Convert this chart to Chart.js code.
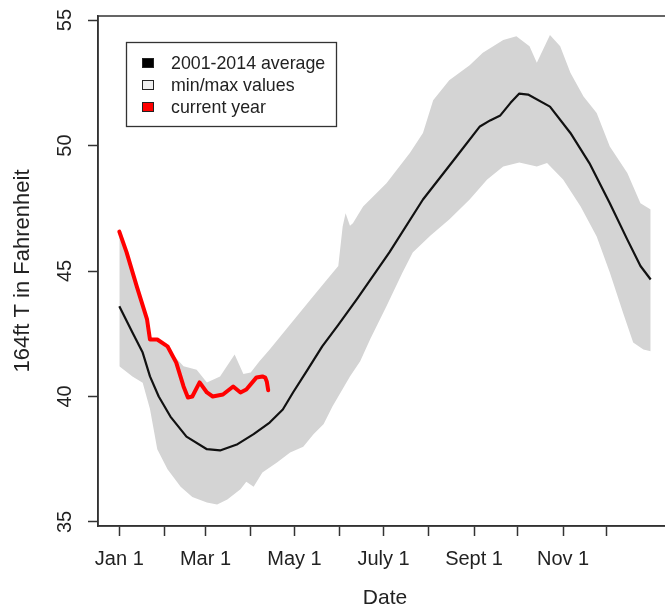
<!doctype html>
<html lang="en">
  <head>
    <meta charset="utf-8">
    <title>164ft temperature</title>
    <style>
      * {
        margin: 0;
        padding: 0;
      }
      html, body {
        width: 665px;
        height: 611px;
        overflow: hidden;
        background: #fff;
      }
      .chartBox {
        width: 680px;
        height: 611px;
      }
    </style>
  </head>
  <body>
    <div class="chartBox">
      <canvas id="myChart"></canvas>
    </div>
    <script src="https://cdn.jsdelivr.net/npm/chart.js/dist/chart.umd.min.js"></script>
    <script>
// data, x = day of year (Jan 1 = 0)
const avgDays = [0, 9, 16, 21, 27, 35, 46, 60, 69, 81, 92, 103, 112, 119, 129, 139, 150, 163, 185, 208, 231, 247, 254, 261, 268, 274, 280, 295, 309, 322, 336, 348, 357, 364];
const avgTemp = [43.6, 42.55, 41.75, 40.8, 40.0, 39.2, 38.4, 37.9, 37.85, 38.1, 38.5, 38.96, 39.48, 40.16, 41.07, 42.0, 42.85, 43.9, 45.74, 47.85, 49.56, 50.76, 51.0, 51.2, 51.7, 52.07, 52.03, 51.55, 50.5, 49.3, 47.7, 46.25, 45.2, 44.66];

const maxDays = [0, 9, 16, 21, 33, 44, 53, 60, 69, 79, 85, 90, 96, 103, 117, 131, 144, 150, 153, 155, 158, 160, 167, 183, 199, 208, 215, 226, 240, 249, 263, 272, 281, 286, 295, 302, 309, 318, 327, 336, 348, 357, 364];
const maxTemp = [46.57, 44.8, 43.5, 42.4, 41.9, 41.2, 41.07, 40.56, 40.8, 41.67, 40.9, 40.96, 41.4, 41.87, 42.87, 43.86, 44.78, 45.2, 46.77, 47.3, 46.8, 46.9, 47.57, 48.5, 49.7, 50.5, 51.8, 52.6, 53.2, 53.7, 54.2, 54.35, 53.95, 53.3, 54.4, 53.95, 52.9, 51.95, 51.3, 49.96, 48.9, 47.7, 47.45];

const minDays = [0, 9, 16, 21, 26, 33, 42, 50, 60, 67, 74, 83, 87, 92, 98, 108, 117, 126, 133, 140, 146, 151, 158, 165, 172, 183, 194, 201, 213, 226, 240, 252, 263, 274, 286, 293, 304, 316, 327, 336, 345, 352, 359, 364];
const minTemp = [41.2, 40.8, 40.55, 39.5, 37.9, 37.1, 36.4, 36.0, 35.78, 35.7, 35.9, 36.3, 36.6, 36.4, 36.97, 37.37, 37.77, 38.0, 38.5, 38.9, 39.6, 40.1, 40.8, 41.4, 42.3, 43.6, 44.94, 45.74, 46.4, 47.05, 47.85, 48.65, 49.16, 49.32, 49.16, 49.3, 48.65, 47.57, 46.37, 44.94, 43.35, 42.15, 41.87, 41.8];

const curDays = [0, 5, 12, 19, 21, 26, 33, 39, 44, 47, 50, 55, 60, 64, 71, 78, 83, 87, 94, 98, 100, 101, 102];
const curTemp = [46.57, 45.74, 44.38, 43.07, 42.27, 42.27, 42.0, 41.35, 40.4, 39.96, 40.0, 40.56, 40.16, 40.0, 40.08, 40.4, 40.16, 40.28, 40.76, 40.8, 40.75, 40.6, 40.25];

const monthStarts = [0, 31, 59, 90, 120, 151, 181, 212, 243, 273, 304, 334];
const monthLabels = ['Jan 1', '', 'Mar 1', '', 'May 1', '', 'July 1', '', 'Sept 1', '', 'Nov 1', ''];
const yTicks = [35, 40, 45, 50, 55];

const legendLabels = ['2001-2014 average', 'min/max values', 'current year'];
const legendFills = ['#000000', '#eeeeee', '#ff0000'];

const pts = (xs, ys) => xs.map((x, i) => ({x: x, y: ys[i]}));

const data = {
  datasets: [{
    label: 'current year',
    data: pts(curDays, curTemp),
    borderColor: '#ff0000',
    borderWidth: 4,
    pointRadius: 0,
    borderJoinStyle: 'round',
    borderCapStyle: 'round',
    fill: false,
    order: 0
  }, {
    label: '2001-2014 average',
    data: pts(avgDays, avgTemp),
    borderColor: '#111111',
    borderWidth: 2.2,
    pointRadius: 0,
    borderJoinStyle: 'round',
    fill: false,
    order: 1
  }, {
    label: 'max',
    data: pts(maxDays, maxTemp),
    borderWidth: 0,
    borderColor: 'rgba(0,0,0,0)',
    backgroundColor: '#d4d4d4',
    pointRadius: 0,
    fill: '+1',
    order: 2
  }, {
    label: 'min',
    data: pts(minDays, minTemp),
    borderWidth: 0,
    borderColor: 'rgba(0,0,0,0)',
    pointRadius: 0,
    fill: false,
    order: 3
  }]
};

// box round the plot, like R's box()
const frame = {
  id: 'frame',
  afterDraw(chart) {
    const {ctx, chartArea: a} = chart;
    ctx.save();
    ctx.strokeStyle = '#333';
    ctx.lineWidth = 1.5;
    ctx.strokeRect(a.left, a.top, a.right - a.left, a.bottom - a.top);
    ctx.restore();
  }
};

const boxLegend = {
  id: 'boxLegend',
  afterDraw(chart) {
    const ctx = chart.ctx;
    ctx.save();
    ctx.fillStyle = '#fff';
    ctx.fillRect(126, 42, 210, 84);
    ctx.strokeStyle = '#333';
    ctx.lineWidth = 1.3;
    ctx.strokeRect(126.5, 42.5, 210, 84);
    ctx.font = '17.8px "Liberation Sans", Arial, sans-serif';
    ctx.textBaseline = 'middle';
    legendLabels.forEach((t, i) => {
      const y = 63 + i * 22;
      ctx.fillStyle = legendFills[i];
      ctx.fillRect(142, y - 5, 12, 10);
      ctx.strokeStyle = '#222';
      ctx.lineWidth = 1;
      ctx.strokeRect(142.5, y - 4.5, 11, 9);
      ctx.fillStyle = '#222';
      ctx.fillText(t, 171, y + 1);
    });
    ctx.restore();
  }
};

const noPad = scale => {
  scale.paddingTop = 0;
  scale.paddingBottom = 0;
  scale.paddingLeft = 0;
  scale.paddingRight = 0;
};

const config = {
  type: 'line',
  data,
  options: {
    responsive: true,
    maintainAspectRatio: false,
    animation: false,
    layout: {
      padding: {top: 16, right: 8, bottom: 0, left: 0}
    },
    plugins: {
      legend: {display: false},
      tooltip: {enabled: false}
    },
    scales: {
      x: {
        type: 'linear',
        min: -14.6,
        max: 378.6,
        afterBuildTicks: scale => {
          scale.ticks = monthStarts.map(v => ({value: v}));
        },
        afterFit: scale => {
          scale.height = 85;
          noPad(scale);
        },
        grid: {
          drawOnChartArea: false,
          drawTicks: true,
          tickLength: 10,
          tickColor: '#333',
          tickWidth: 1.5
        },
        border: {display: true, color: '#333', width: 1.5},
        ticks: {
          autoSkip: false,
          maxRotation: 0,
          padding: 11,
          color: '#222',
          font: {family: '"Liberation Sans", Arial, sans-serif', size: 20},
          callback: (value, index) => monthLabels[index]
        },
        title: {
          display: true,
          text: 'Date',
          color: '#222',
          padding: {top: 0, bottom: 0},
          font: {family: '"Liberation Sans", Arial, sans-serif', size: 21}
        }
      },
      y: {
        min: 34.84,
        max: 55.16,
        afterBuildTicks: scale => {
          scale.ticks = yTicks.map(v => ({value: v}));
        },
        afterFit: scale => {
          scale.width = 98;
          noPad(scale);
        },
        grid: {
          drawOnChartArea: false,
          drawTicks: true,
          tickLength: 10,
          tickColor: '#333',
          tickWidth: 1.5
        },
        border: {display: true, color: '#333', width: 1.5},
        ticks: {
          minRotation: 90,
          maxRotation: 90,
          crossAlign: 'center',
          padding: 11,
          color: '#222',
          font: {family: '"Liberation Sans", Arial, sans-serif', size: 20}
        },
        title: {
          display: true,
          text: '164ft T in Fahrenheit',
          color: '#222',
          padding: {top: 10, bottom: 0},
          font: {family: '"Liberation Sans", Arial, sans-serif', size: 22}
        }
      }
    }
  },
  plugins: [frame, boxLegend]
};

const myChart = new Chart(document.getElementById('myChart'), config);
    </script>
  </body>
</html>
